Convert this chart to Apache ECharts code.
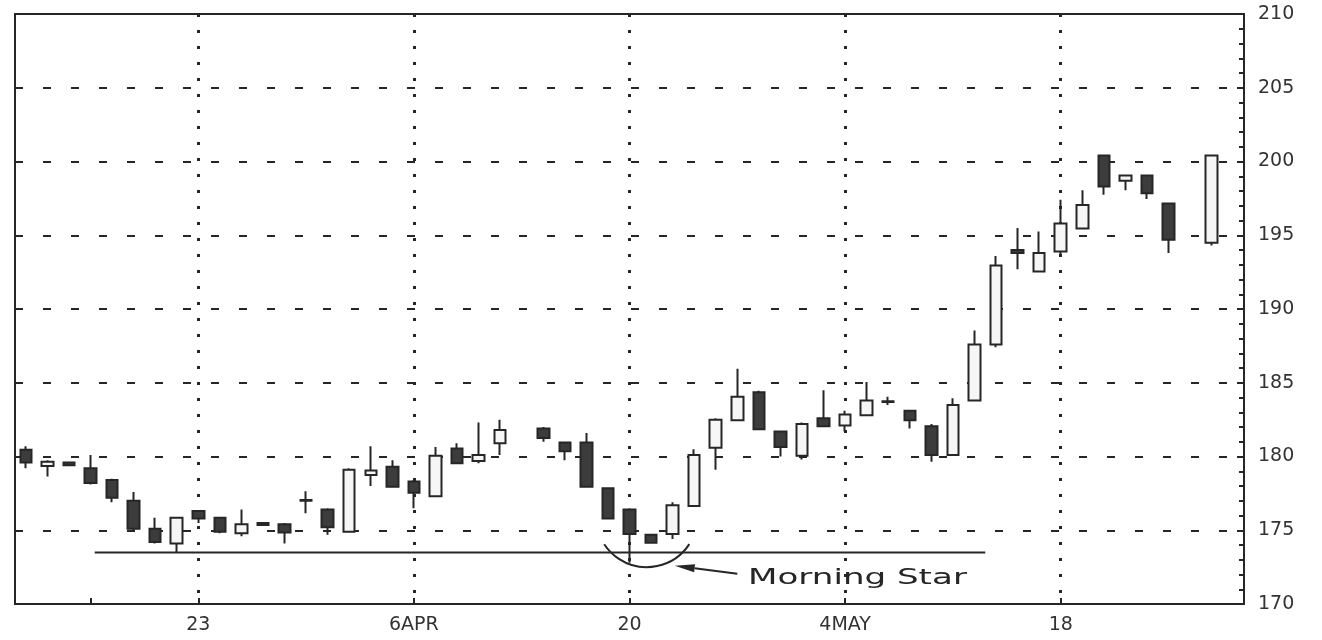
<!DOCTYPE html>
<html>
<head>
<meta charset="utf-8">
<title>Morning Star</title>
<script src="https://cdn.jsdelivr.net/npm/echarts@6/dist/echarts.min.js"></script>
<style>
    html, body { margin: 0; padding: 0; background: #fff; }
    #chart { width: 1322px; height: 640px; }
</style>
</head>
<body>
<div id="chart"></div>
<script>
// trading days (Mar 11 - May 28), one category per day
const days = [
    '3-11', '3-12', '3-13', '3-16', '3-17', '3-18', '3-19', '3-20', '3-23', '3-24',
    '3-25', '3-26', '3-27', '3-30', '3-31', '4-01', '4-02', '4-03', '4-06', '4-07',
    '4-08', '4-09', '4-10', '4-13', '4-14', '4-15', '4-16', '4-17', '4-20', '4-21',
    '4-22', '4-23', '4-24', '4-27', '4-28', '4-29', '4-30', '5-01', '5-04', '5-05',
    '5-06', '5-07', '5-08', '5-11', '5-12', '5-13', '5-14', '5-15', '5-18', '5-19',
    '5-20', '5-21', '5-22', '5-25', '5-26', '5-27', '5-28',
]

// prices (null = no bar that day)
const opens = [
    180.45, 179.35, 179.6, 179.2, 178.4, 177.0, 175.1, 174.1, 176.3, 175.85,
    174.8, 175.5, 175.4, 177.0, 176.4, 174.9, 178.75, 179.3, 178.3, 177.3,
    180.55, 179.7, 180.9, null, 181.9, 180.95, 180.95, 177.85, 176.4, 174.7,
    174.75, 176.65, 180.6, 182.45, 184.35, 181.7, 180.05, 182.6, 182.1, 182.8,
    183.7, 183.1, 182.05, 180.1, 183.8, 187.6, 194.0, 192.55, 193.9, 195.45,
    200.4, 198.7, 199.05, 197.15, null, 194.5, null,
]
const closes = [
    179.6, 179.65, 179.4, 178.2, 177.2, 175.1, 174.2, 175.85, 175.8, 174.9,
    175.4, 175.35, 174.85, 177.05, 175.2, 179.1, 179.05, 177.95, 177.55, 180.05,
    179.55, 180.1, 181.8, null, 181.25, 180.35, 177.95, 175.8, 174.75, 174.15,
    176.7, 180.1, 182.5, 184.05, 181.85, 180.65, 182.2, 182.05, 182.85, 183.8,
    183.75, 182.45, 180.1, 183.5, 187.6, 192.95, 193.8, 193.8, 195.8, 197.05,
    198.3, 199.05, 197.85, 194.7, null, 200.4, null,
]
const lows = [
    179.2, 178.65, 179.35, 178.1, 176.9, 175.0, 174.1, 173.5, 175.5, 174.8,
    174.6, 175.3, 174.1, 176.15, 174.7, 174.85, 178.0, 177.9, 176.5, 177.25,
    179.5, 179.55, 180.1, null, 181.0, 179.75, 177.9, 175.75, 172.8, 174.1,
    174.4, 176.6, 179.1, 182.4, 181.8, 180.0, 179.8, 182.0, 181.7, 182.75,
    183.5, 181.9, 179.65, 180.05, 183.75, 187.4, 192.7, 192.5, 193.7, 195.4,
    197.75, 198.05, 197.45, 193.8, null, 194.3, null,
]
const highs = [
    180.7, 179.75, 179.65, 180.1, 178.5, 177.6, 175.85, 175.9, 176.35, 175.9,
    176.4, 175.55, 175.5, 177.65, 176.5, 179.2, 180.7, 179.75, 178.4, 180.65,
    180.9, 182.3, 182.5, null, 182.0, 181.0, 181.6, 177.9, 176.5, 174.75,
    176.9, 180.5, 182.6, 185.95, 184.45, 181.75, 182.3, 184.5, 183.1, 185.05,
    184.05, 183.15, 182.2, 183.95, 188.55, 193.6, 195.5, 195.25, 197.4, 198.05,
    200.45, 199.1, 199.1, 197.2, null, 200.45, null,
]

// x axis labels (category index -> text)
const tickIndex = [8, 18, 28, 38, 48]
const tickText = ['23', '6APR', '20', '4MAY', '18']
const extraTicks = [3]

// y axis range
const yMin = 170
const yMax = 210
const yStep = 5

// annotations, in data units (x = category index, y = price)
const supportLevel = 173.5
const supportFrom = 3.2
const supportTo = 44.5
const starCenter = [28.8, 175.95]
const starBottom = 172.5
const arrowFrom = [33.0, 172.05]
const arrowTo = [30.1, 172.6]
const labelAt = [33.5, 171.75]
const labelText = 'Morning Star'

const ink = '#262626'
const font = '"DejaVu Sans", sans-serif'

const candles = days.map((d, i) =>
    opens[i] == null ? '-' : [opens[i], closes[i], lows[i], highs[i]]
)

const chart = echarts.init(document.getElementById('chart'))

chart.setOption({
    animation: false,
    backgroundColor: '#fff',
    grid: {
        left: 15,
        right: 78,
        top: 14,
        bottom: 36,
        show: true,
        borderColor: ink,
        borderWidth: 2,
    },
    xAxis: {
        type: 'category',
        data: days,
        boundaryGap: true,
        axisLine: { show: true, lineStyle: { color: ink, width: 2 } },
        axisTick: {
            show: true,
            inside: true,
            length: 6,
            alignWithLabel: true,
            interval: (i) => tickIndex.includes(i) || extraTicks.includes(i),
            lineStyle: { color: ink, width: 2 },
        },
        axisLabel: {
            interval: (i) => tickIndex.includes(i),
            formatter: (v, i) => tickText[tickIndex.indexOf(i)] || '',
            margin: 12,
            color: '#333',
            fontFamily: font,
            fontSize: 19,
        },
        splitLine: {
            show: true,
            alignWithLabel: true,
            interval: (i) => tickIndex.includes(i),
            lineStyle: { color: ink, width: 3, type: [3, 13] },
        },
    },
    yAxis: {
        type: 'value',
        position: 'right',
        min: yMin,
        max: yMax,
        interval: yStep,
        axisLine: { show: true, lineStyle: { color: ink, width: 2 } },
        axisTick: { show: true, inside: true, length: 7, lineStyle: { color: ink, width: 2 } },
        minorTick: { show: true, splitNumber: 5, length: 5, lineStyle: { color: ink, width: 2 } },
        axisLabel: {
            margin: 14,
            color: '#333',
            fontFamily: font,
            fontSize: 19,
        },
        splitLine: {
            show: true,
            lineStyle: { color: ink, width: 2, type: [8, 20] },
        },
    },
    series: [
        {
            type: 'candlestick',
            data: candles,
            barWidth: 12,
            itemStyle: {
                color: '#f6f6f6',
                color0: '#3c3c3c',
                borderColor: ink,
                borderColor0: ink,
                borderWidth: 2,
            },
        },
    ],
})

// annotations: support line, star arc, arrow and label
const toPx = (xi, v) => {
    const a = Math.floor(xi)
    const b = Math.ceil(xi)
    const pa = chart.convertToPixel({ gridIndex: 0 }, [a, v])
    const pb = chart.convertToPixel({ gridIndex: 0 }, [b, v])
    return [pa[0] + (pb[0] - pa[0]) * (xi - a), pa[1]]
}

const s1 = toPx(supportFrom, supportLevel)
const s2 = toPx(supportTo, supportLevel)
const c = toPx(starCenter[0], starCenter[1])
const r = toPx(starCenter[0], starBottom)[1] - c[1]
const a1 = toPx(arrowFrom[0], arrowFrom[1])
const a2 = toPx(arrowTo[0], arrowTo[1])
const dx = a2[0] - a1[0]
const dy = a2[1] - a1[1]
const len = Math.hypot(dx, dy)
const ux = dx / len
const uy = dy / len
const headLen = 20
const headHalf = 4
const base = [a2[0] - ux * headLen, a2[1] - uy * headLen]
const t = toPx(labelAt[0], labelAt[1])

chart.setOption({
    graphic: [
        {
            type: 'line',
            z: 50,
            shape: { x1: s1[0], y1: s1[1], x2: s2[0], y2: s2[1] },
            style: { stroke: ink, lineWidth: 2 },
        },
        {
            type: 'arc',
            z: 50,
            shape: { cx: c[0], cy: c[1], r: r, startAngle: 0.58, endAngle: 2.56, clockwise: true },
            style: { stroke: ink, lineWidth: 2, fill: null },
        },
        {
            type: 'line',
            z: 50,
            shape: { x1: a1[0], y1: a1[1], x2: base[0], y2: base[1] },
            style: { stroke: ink, lineWidth: 2 },
        },
        {
            type: 'polygon',
            z: 50,
            shape: {
                points: [
                    a2,
                    [base[0] - uy * headHalf, base[1] + ux * headHalf],
                    [base[0] + uy * headHalf, base[1] - ux * headHalf],
                ],
            },
            style: { fill: ink },
        },
        {
            // old chart font is very wide, so stretch the label sideways
            type: 'text',
            z: 50,
            x: t[0],
            y: t[1],
            scaleX: 1.55,
            style: {
                text: labelText,
                x: 0,
                y: 0,
                font: '22px ' + font,
                fill: ink,
                align: 'left',
                verticalAlign: 'middle',
            },
        },
    ],
})

window.addEventListener('resize', () => chart.resize())
</script>
</body>
</html>
